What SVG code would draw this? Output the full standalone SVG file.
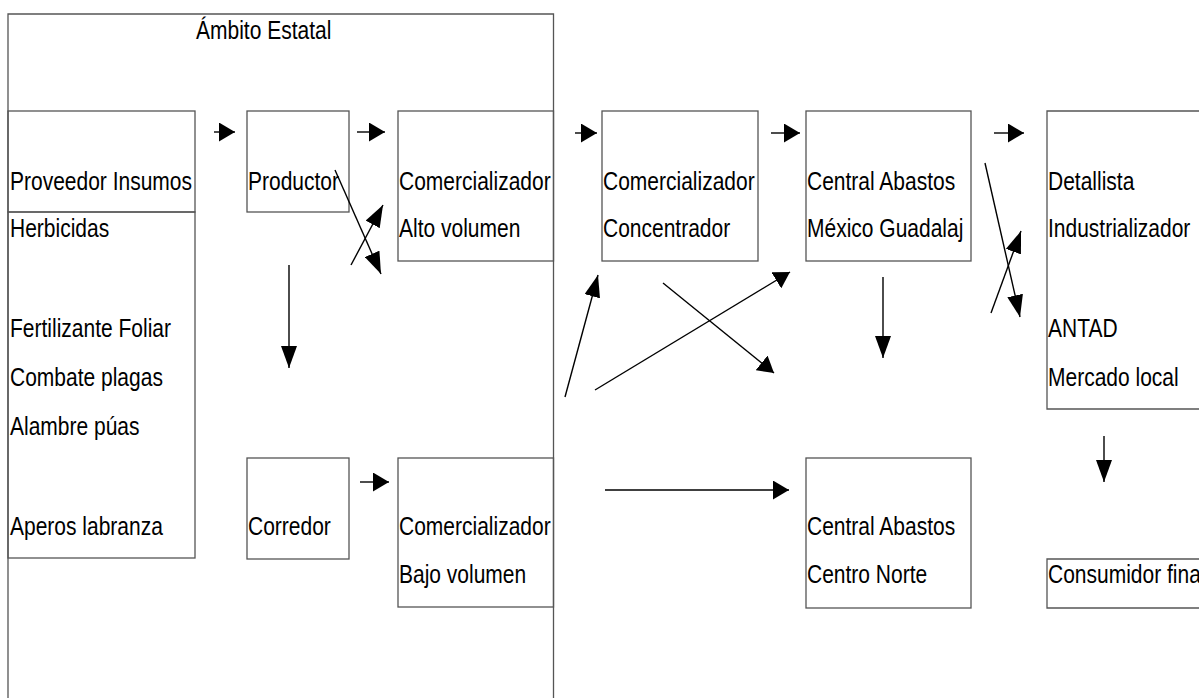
<svg xmlns="http://www.w3.org/2000/svg" width="1199" height="698" viewBox="0 0 1199 698">
<style>
.box{fill:none;stroke:#555;stroke-width:1.3}
.t{font-family:"Liberation Sans",Arial,sans-serif;font-size:21px;fill:#000}
.c{fill:none;stroke:#000;stroke-width:1.4}
</style>
<defs>
<marker id="arrH" markerUnits="userSpaceOnUse" markerWidth="16" markerHeight="19" refX="16" refY="9.5" orient="auto" viewBox="0 0 16 19">
<path d="M0,0 L16,9.5 L0,19 z" fill="#000"/>
</marker>
<marker id="arrV" markerUnits="userSpaceOnUse" markerWidth="22" markerHeight="16" refX="22" refY="8" orient="auto" viewBox="0 0 22 16">
<path d="M0,0 L22,8 L0,16 z" fill="#000"/>
</marker>
</defs>
<rect width="1199" height="698" fill="#fff"/>

<g id="ambito-estatal">
<path class="box" d="M8,700 V14 H553.5 V700"/>
<text class="t" transform="matrix(1 0 0 1.2 196 39)">Ámbito Estatal</text>
</g>

<g id="proveedor-insumos">
<rect class="box" x="8" y="111" width="187" height="101"/>
<text class="t" transform="matrix(1 0 0 1.2 10 190)">Proveedor Insumos</text>
</g>

<g id="insumos-lista">
<rect class="box" x="8" y="212" width="187" height="346"/>
<text class="t" transform="matrix(1 0 0 1.2 10 237)">Herbicidas</text>
<text class="t" transform="matrix(1 0 0 1.2 10 337)">Fertilizante Foliar</text>
<text class="t" transform="matrix(1 0 0 1.2 10 386)">Combate plagas</text>
<text class="t" transform="matrix(1 0 0 1.2 10 435)">Alambre púas</text>
<text class="t" transform="matrix(1 0 0 1.2 10 535)">Aperos labranza</text>
</g>

<g id="productor">
<rect class="box" x="247" y="111" width="102" height="101"/>
<text class="t" transform="matrix(1 0 0 1.2 248 190)">Productor</text>
</g>

<g id="comercializador-alto">
<rect class="box" x="398" y="111" width="155.5" height="150"/>
<text class="t" transform="matrix(1 0 0 1.2 399 190)">Comercializador</text>
<text class="t" transform="matrix(1 0 0 1.2 399 237)">Alto volumen</text>
</g>

<g id="corredor">
<rect class="box" x="247" y="458" width="102" height="101"/>
<text class="t" transform="matrix(1 0 0 1.2 248 535)">Corredor</text>
</g>

<g id="comercializador-bajo">
<rect class="box" x="398" y="458" width="155.5" height="149"/>
<text class="t" transform="matrix(1 0 0 1.2 399 535)">Comercializador</text>
<text class="t" transform="matrix(1 0 0 1.2 399 583)">Bajo volumen</text>
</g>

<g id="comercializador-concentrador">
<rect class="box" x="602" y="111" width="156" height="150"/>
<text class="t" transform="matrix(1 0 0 1.2 603 190)">Comercializador</text>
<text class="t" transform="matrix(1 0 0 1.2 603 237)">Concentrador</text>
</g>

<g id="central-mexico">
<rect class="box" x="806" y="111" width="165" height="150"/>
<text class="t" transform="matrix(1 0 0 1.2 807 190)">Central Abastos</text>
<text class="t" transform="matrix(1 0 0 1.2 807 237)">México Guadalaj</text>
</g>

<g id="detallista">
<path class="box" d="M1205,111 H1047 V409 H1205"/>
<text class="t" transform="matrix(1 0 0 1.2 1048 190)">Detallista</text>
<text class="t" transform="matrix(1 0 0 1.2 1048 237)">Industrializador</text>
<text class="t" transform="matrix(1 0 0 1.2 1048 337)">ANTAD</text>
<text class="t" transform="matrix(1 0 0 1.2 1048 386)">Mercado local</text>
</g>

<g id="central-norte">
<rect class="box" x="806" y="458" width="165" height="150"/>
<text class="t" transform="matrix(1 0 0 1.2 807 535)">Central Abastos</text>
<text class="t" transform="matrix(1 0 0 1.2 807 583)">Centro Norte</text>
</g>

<g id="consumidor-final">
<path class="box" d="M1205,559 H1047 V608 H1205"/>
<text class="t" transform="matrix(1 0 0 1.2 1048 583)">Consumidor final</text>
</g>

<g id="connectors">
<path class="c" d="M214,132 H235" marker-end="url(#arrH)"/>
<path class="c" d="M357,132 H385" marker-end="url(#arrH)"/>
<path class="c" d="M575,133 H597" marker-end="url(#arrH)"/>
<path class="c" d="M771,133 H800" marker-end="url(#arrH)"/>
<path class="c" d="M994,133 H1024" marker-end="url(#arrH)"/>
<path class="c" d="M335,170 L381,274" marker-end="url(#arrV)"/>
<path class="c" d="M351,265 L383,205" marker-end="url(#arrV)"/>
<path class="c" d="M289,265 V368" marker-end="url(#arrV)"/>
<path class="c" d="M360,482 H389" marker-end="url(#arrH)"/>
<path class="c" d="M565,397 L598,275" marker-end="url(#arrV)"/>
<path class="c" d="M663,283 L774,373" marker-end="url(#arrH)"/>
<path class="c" d="M595,390 L790,272" marker-end="url(#arrH)"/>
<path class="c" d="M883,277 V358" marker-end="url(#arrV)"/>
<path class="c" d="M985,163 L1020,317" marker-end="url(#arrV)"/>
<path class="c" d="M991,313 L1021,231" marker-end="url(#arrV)"/>
<path class="c" d="M1104,436 V482" marker-end="url(#arrV)"/>
<path class="c" d="M605,490 H789" marker-end="url(#arrH)"/>
</g>
</svg>
